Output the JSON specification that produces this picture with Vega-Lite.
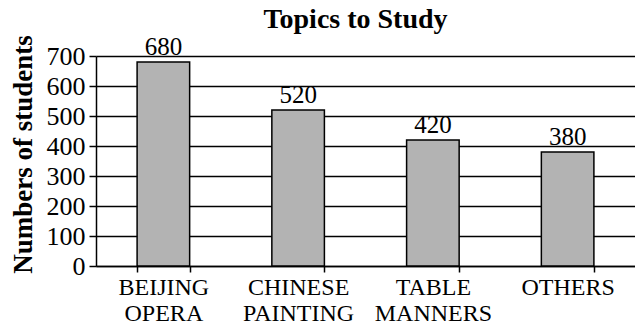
{
  "$schema": "https://vega.github.io/schema/vega-lite/v6.json",
  "width": 539,
  "height": 210,
  "autosize": {"type": "none"},
  "padding": {"left": 96, "top": 56, "right": 0, "bottom": 60},
  "background": "white",
  "title": {
    "text": "Topics to Study",
    "font": "Times New Roman, Liberation Serif, serif",
    "fontSize": 28,
    "fontWeight": "bold",
    "color": "black",
    "frame": "group",
    "anchor": "middle",
    "baseline": "alphabetic",
    "offset": -21,
    "dx": -10
  },
  "config": {"view": {"stroke": null}, "font": "Times New Roman, Liberation Serif, serif"},
  "data": {
    "values": [
      {"topic": "BEIJING OPERA", "students": 680},
      {"topic": "CHINESE PAINTING", "students": 520},
      {"topic": "TABLE MANNERS", "students": 420},
      {"topic": "OTHERS", "students": 380}
    ]
  },
  "encoding": {
    "x": {
      "field": "topic",
      "type": "nominal",
      "sort": null,
      "scale": {"paddingInner": 0.61, "paddingOuter": 0.305},
      "axis": {
        "title": null,
        "labelAngle": 0,
        "labelExpr": "split(datum.label, ' ')",
        "labelFont": "Times New Roman, Liberation Serif, serif",
        "labelFontSize": 24,
        "labelColor": "black",
        "labelLineHeight": 26,
        "labelBaseline": "top",
        "labelPadding": 3,
        "labelOverlap": false,
        "tickBand": "extent",
        "tickSize": 6,
        "tickColor": "black",
        "tickWidth": 1.5,
        "domainColor": "black",
        "domainWidth": 1.5
      }
    },
    "y": {
      "field": "students",
      "type": "quantitative",
      "scale": {"domain": [0, 700]},
      "axis": {
        "title": "Numbers of students",
        "values": [0, 100, 200, 300, 400, 500, 600, 700],
        "titleFont": "Times New Roman, Liberation Serif, serif",
        "titleFontSize": 27,
        "titleFontWeight": "bold",
        "titleColor": "black",
        "titleAngle": 270,
        "titleX": -65,
        "titleY": 98,
        "titleAlign": "center",
        "titleBaseline": "alphabetic",
        "labelFont": "Times New Roman, Liberation Serif, serif",
        "labelFontSize": 26,
        "labelColor": "black",
        "labelPadding": 4,
        "tickSize": 7,
        "tickColor": "black",
        "tickWidth": 1.5,
        "domainColor": "black",
        "domainWidth": 1.5,
        "grid": true,
        "gridColor": "black",
        "gridWidth": 1.5,
        "gridOpacity": 1
      }
    }
  },
  "layer": [
    {"mark": {"type": "bar", "fill": "#b3b3b3", "stroke": "black", "strokeWidth": 1.5}},
    {
      "mark": {"type": "text", "baseline": "alphabetic", "dy": -7, "fontSize": 25, "font": "Times New Roman, Liberation Serif, serif", "color": "black"},
      "encoding": {"text": {"field": "students", "type": "quantitative"}}
    }
  ]
}
